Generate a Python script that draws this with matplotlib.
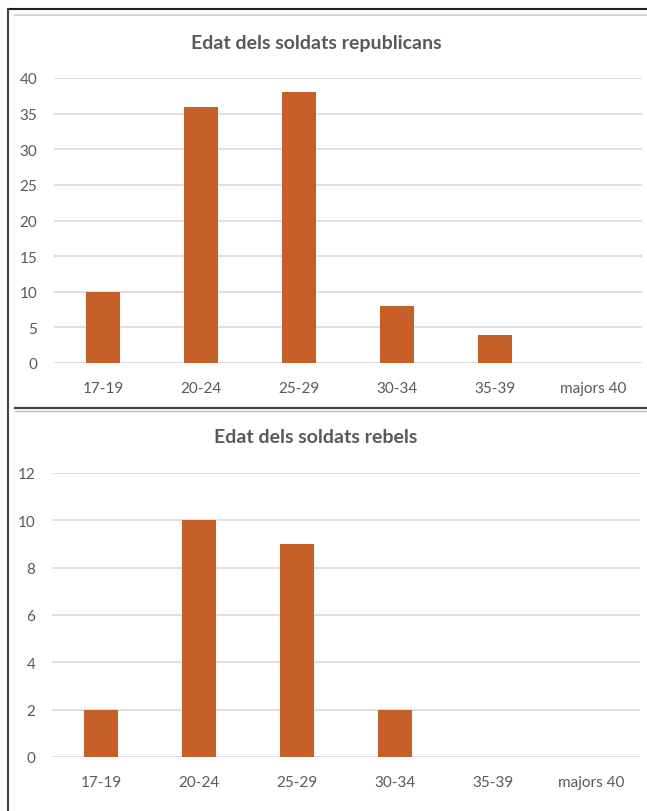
import matplotlib.pyplot as plt
from matplotlib.lines import Line2D
import numpy as np

plt.rcParams['font.family'] = ['Lato', 'DejaVu Sans']

# data
categories = ['17-19', '20-24', '25-29', '30-34', '35-39', 'majors 40']
republicans = [10, 36, 38, 8, 4, 0]
rebels = [2, 10, 9, 2, 0, 0]

bar_color = '#C55F27'
text_color = '#595959'
grid_color = '#D9D9D9'

W, H = 647, 812
fig = plt.figure(figsize=(W / 100, H / 100), dpi=100)


def px_axes(x0, x1, y_top, y_bottom):
    return fig.add_axes([x0 / W, 1 - y_bottom / H, (x1 - x0) / W, (y_bottom - y_top) / H])


def draw(ax, values, title, ymax, step, title_y):
    x = np.arange(len(categories))
    ax.bar(x, values, width=0.34, color=bar_color, zorder=3)
    ax.set_xlim(-0.5, len(categories) - 0.5)
    ax.set_ylim(0, ymax)
    ax.set_yticks(np.arange(0, ymax + 1, step))
    ax.set_xticks(x)
    ax.set_xticklabels(categories)
    ax.yaxis.grid(True, color=grid_color, linewidth=1.2, zorder=0)
    for s in ax.spines.values():
        s.set_visible(False)
    ax.tick_params(axis='both', length=0, colors=text_color, labelsize=11)
    ax.tick_params(axis='y', pad=12)
    ax.tick_params(axis='x', pad=13)
    fig.text(316 / W, 1 - title_y / H, title, ha='center', va='center',
             fontsize=14, fontweight='bold', color=text_color)


ax1 = px_axes(54, 642, 79, 364)
draw(ax1, republicans, 'Edat dels soldats republicans', 40, 5, 43)

ax2 = px_axes(52, 640, 474, 758)
draw(ax2, rebels, 'Edat dels soldats rebels', 12, 2, 438)

# frame lines around the screenshot
fig.add_artist(Line2D([8 / W, 1], [1 - 10 / H] * 2, color='#222222', lw=1.5))
fig.add_artist(Line2D([8 / W] * 2, [0, 1 - 10 / H], color='#444444', lw=1.5))
fig.add_artist(Line2D([15 / W, 1], [1 - 16 / H] * 2, color='#CCCCCC', lw=1.2))
fig.add_artist(Line2D([15 / W, 1], [1 - 409 / H] * 2, color='#444444', lw=1.6))
fig.add_artist(Line2D([15 / W, 1], [1 - 411.5 / H] * 2, color='#BBBBBB', lw=1.0))

fig.savefig('out.png', dpi=100)
